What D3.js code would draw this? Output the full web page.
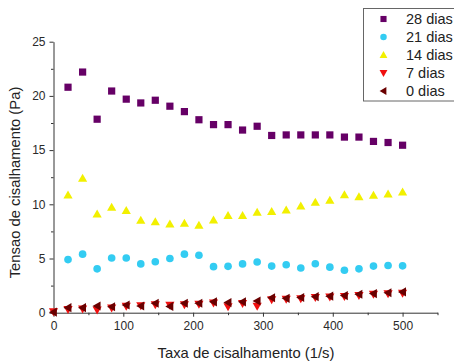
<!DOCTYPE html>
<html>
<head>
<meta charset="utf-8">
<script src="https://cdn.jsdelivr.net/npm/d3@7"></script>
<style>
  html, body { margin: 0; padding: 0; background: #fff; overflow: hidden; }
  svg { display: block; font-family: "Liberation Sans", Arial, sans-serif; }
</style>
</head>
<body>
<svg id="chart" width="454" height="361"></svg>
<script>
// Shear rate (1/s)
const shearRate = [0, 20.8, 41.7, 62.5, 83.3, 104.2, 125, 145.8, 166.7, 187.5, 208.3, 229.2,
  250, 270.8, 291.7, 312.5, 333.3, 354.2, 375, 395.8, 416.7, 437.5, 458.3, 479.2, 500];

// Shear stress (Pa) per storage time; null = not measured
const dias28 = [null, 20.8, 22.2, 17.85, 20.45, 19.7, 19.35, 19.6, 19.05, 18.55, 17.8, 17.35,
  17.35, 16.85, 17.2, 16.35, 16.4, 16.4, 16.4, 16.4, 16.2, 16.2, 15.8, 15.7, 15.45];
const dias21 = [null, 4.9, 5.4, 4.05, 5.05, 5.05, 4.5, 4.7, 5.0, 5.4, 5.3, 4.25,
  4.28, 4.5, 4.68, 4.3, 4.42, 4.12, 4.52, 4.2, 3.92, 4.05, 4.3, 4.35, 4.32];
const dias14 = [null, 10.85, 12.4, 9.1, 9.72, 9.42, 8.52, 8.38, 8.18, 8.25, 8.06, 8.55,
  8.95, 8.95, 9.26, 9.32, 9.47, 9.84, 10.18, 10.37, 10.88, 10.68, 10.83, 10.95, 11.13];
const dias7 = [0.1, 0.3, 0.35, 0.25, 0.45, 0.6, 0.65, 0.75, 0.7, 0.75, 0.8, 0.9,
  0.55, 0.85, 0.6, 1.2, 1.25, 1.3, 1.4, 1.45, 1.5, 1.6, 1.7, 1.75, 1.8];
const dias0 = [0.05, 0.46, 0.46, 0.62, 0.55, 0.71, 0.62, 0.87, 0.58, 0.87, 0.87, 1.0,
  0.93, 1.0, 1.08, 1.38, 1.33, 1.4, 1.48, 1.52, 1.58, 1.7, 1.76, 1.84, 1.92];

const xMajorTicks = [0, 100, 200, 300, 400, 500];
const yMajorTicks = [0, 5, 10, 15, 20, 25];

const seriesNames = ["28 dias", "21 dias", "14 dias", "7 dias", "0 dias"];
const seriesValues = [dias28, dias21, dias14, dias7, dias0];
const seriesColors = ["#660066", "#33CCF2", "#F2F000", "#F01010", "#6A0000"];
const seriesShapes = ["square", "circle", "up", "down", "left"];

const svg = d3.select("#chart");
const x = d3.scaleLinear().domain([0, 550]).range([53.5, 437.5]);
const y = d3.scaleLinear().domain([0, 25]).range([312.7, 41.7]);

// marker path centred on the origin
function markerPath(shape) {
  switch (shape) {
    case "square": return "M-3.6,-3.6H3.6V3.6H-3.6Z";
    case "circle": return d3.symbol(d3.symbolCircle, 46)();
    case "up": return "M0,-4.6L4.6,3.4L-4.6,3.4Z";
    case "down": return "M0,4.6L4.6,-3.4L-4.6,-3.4Z";
    case "left": return "M-4.6,0L3.4,-4.6L3.4,4.6Z";
  }
}

// axes
const axisColor = "#333";
svg.append("g").attr("transform", `translate(0,${y(0)})`)
  .call(d3.axisBottom(x).tickValues(xMajorTicks).tickSize(4).tickSizeOuter(0).tickPadding(5));
const xMinor = svg.append("g").attr("transform", `translate(0,${y(0)})`)
  .call(d3.axisBottom(x).tickValues(d3.range(50, 551, 100)).tickSize(2.5).tickSizeOuter(0).tickFormat(""));
xMinor.select(".domain").remove();

svg.append("g").attr("transform", `translate(${x(0)},0)`)
  .call(d3.axisLeft(y).tickValues(yMajorTicks).tickSize(4).tickSizeOuter(0).tickPadding(4));
const yMinor = svg.append("g").attr("transform", `translate(${x(0)},0)`)
  .call(d3.axisLeft(y).tickValues([2.5, 7.5, 12.5, 17.5, 22.5]).tickSize(2.5).tickSizeOuter(0).tickFormat(""));
yMinor.select(".domain").remove();

svg.selectAll(".domain, .tick line").attr("stroke", axisColor).attr("stroke-width", 1);
svg.selectAll(".tick text").attr("fill", "#2a2a2a").style("font-size", "12px")
  .style("font-family", "'Liberation Sans', Arial, sans-serif");

// axis titles
svg.append("text").attr("x", 246).attr("y", 357.5).attr("text-anchor", "middle")
  .attr("fill", "#222").style("font-size", "14.8px").text("Taxa de cisalhamento (1/s)");
svg.append("text").attr("transform", "translate(20,182.5) rotate(-90)").attr("text-anchor", "middle")
  .attr("fill", "#222").style("font-size", "14.8px").text("Tensao de cisalhamento (Pa)");

// markers, plotted so that the later series sit on top
seriesValues.forEach((vals, i) => {
  const pts = shearRate.map((r, j) => ({ r, v: vals[j] })).filter(d => d.v != null);
  svg.append("g").selectAll("path").data(pts).join("path")
    .attr("d", markerPath(seriesShapes[i]))
    .attr("transform", d => `translate(${x(d.r)},${y(d.v)})`)
    .attr("fill", seriesColors[i]);
});

// legend
const legend = svg.append("g");
legend.append("rect").attr("x", 363.5).attr("y", 8.5).attr("width", 110).attr("height", 92.5)
  .attr("fill", "#fff").attr("stroke", "#666").attr("stroke-width", 1);
seriesNames.forEach((name, i) => {
  const cy = 19 + i * 18;
  legend.append("path").attr("d", markerPath(seriesShapes[i]))
    .attr("transform", `translate(383.5,${cy}) scale(0.85)`).attr("fill", seriesColors[i]);
  legend.append("text").attr("x", 406).attr("y", cy + 5).attr("fill", "#222")
    .style("font-size", "14.5px").text(name);
});
</script>
</body>
</html>
